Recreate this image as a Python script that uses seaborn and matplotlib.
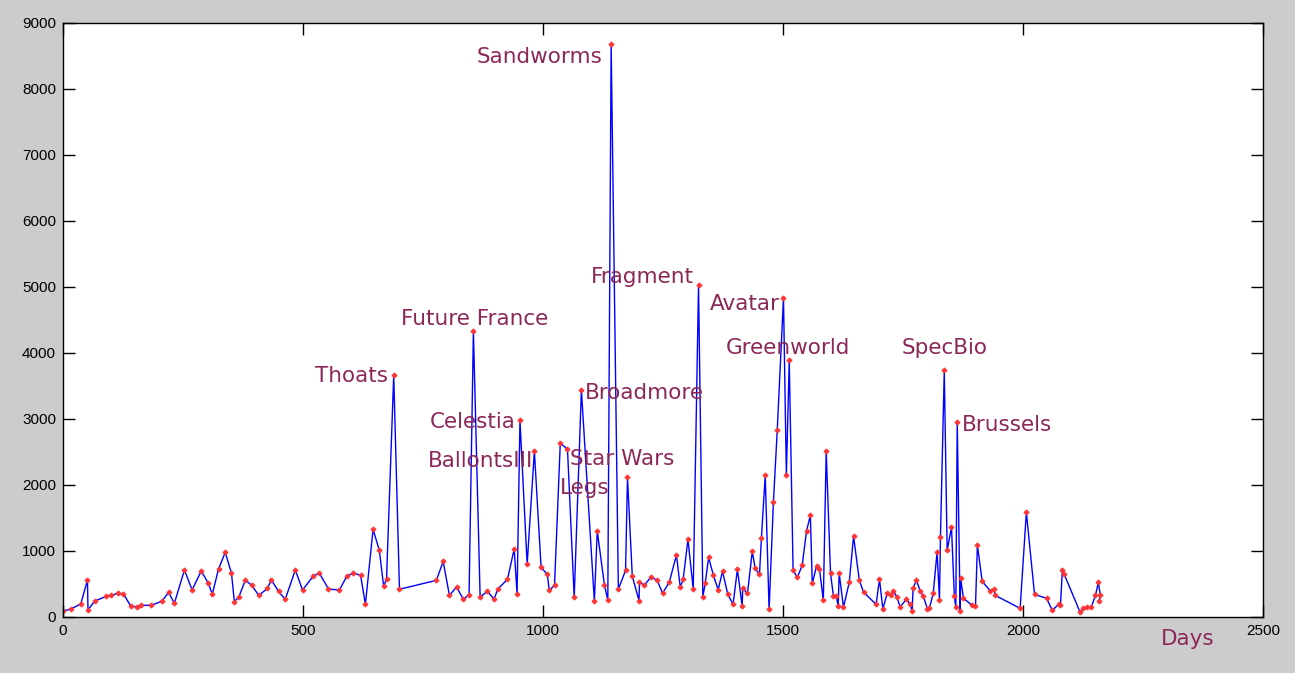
import matplotlib
matplotlib.use("Agg")
import matplotlib.pyplot as plt
import pandas as pd
import seaborn as sns

# days since start and the value at each of them
days = [1, 16, 37, 51, 52, 66, 90, 101, 114, 126, 141, 155, 162, 183, 206, 220, 232, 253, 269, 288,
        303, 311, 324, 338, 351, 357, 366, 380, 393, 408, 426, 434, 449, 463, 484, 499, 521, 534, 553, 576,
        591, 605, 620, 630, 646, 659, 668, 674, 689, 701, 778, 792, 805, 820, 834, 846, 855, 869, 884, 898,
        906, 926, 940, 946, 952, 967, 982, 996, 1009, 1013, 1024, 1036, 1051, 1065, 1080, 1107, 1113, 1128, 1135, 1142,
        1157, 1172, 1176, 1186, 1200, 1201, 1211, 1225, 1238, 1249, 1263, 1278, 1286, 1292, 1302, 1313, 1324, 1333, 1338, 1345,
        1355, 1365, 1374, 1385, 1396, 1405, 1415, 1416, 1426, 1436, 1442, 1451, 1455, 1463, 1471, 1480, 1488, 1501, 1507, 1513,
        1521, 1530, 1540, 1549, 1557, 1561, 1570, 1576, 1584, 1590, 1599, 1605, 1611, 1615, 1617, 1626, 1638, 1647, 1659, 1668,
        1694, 1701, 1708, 1717, 1724, 1730, 1737, 1744, 1757, 1765, 1769, 1771, 1778, 1786, 1792, 1801, 1805, 1813, 1821, 1826,
        1828, 1836, 1842, 1851, 1857, 1860, 1863, 1869, 1870, 1876, 1894, 1901, 1905, 1915, 1932, 1940, 1942, 1994, 2007, 2024,
        2049, 2061, 2074, 2078, 2082, 2086, 2119, 2126, 2134, 2142, 2151, 2157, 2161, 2159]
values = [91, 121, 197, 560, 106, 242, 313, 328, 359, 348, 167, 152, 177, 177, 237, 373, 207, 712, 409, 697,
          510, 343, 727, 980, 662, 232, 298, 560, 480, 328, 434, 560, 389, 268, 712, 409, 616, 667, 424, 409,
          616, 667, 631, 192, 1328, 1010, 465, 571, 3662, 420, 556, 843, 328, 455, 268, 338, 4328, 303, 389, 273,
          424, 571, 1030, 343, 2980, 798, 2515, 752, 646, 404, 480, 2631, 2545, 298, 3439, 237, 1303, 485, 258, 8677,
          420, 707, 2116, 621, 247, 530, 480, 606, 556, 359, 525, 939, 450, 571, 1177, 420, 5025, 308, 510, 904,
          631, 414, 692, 343, 192, 722, 162, 434, 359, 995, 737, 646, 1192, 2147, 116, 1737, 2828, 4828, 2147, 3889,
          707, 601, 783, 1303, 1540, 510, 773, 727, 252, 2510, 662, 318, 318, 162, 662, 147, 525, 1222, 556, 374,
          192, 571, 121, 359, 328, 394, 308, 152, 268, 192, 91, 434, 560, 389, 323, 121, 136, 359, 985, 258,
          1207, 3737, 1010, 1359, 313, 147, 2949, 86, 586, 283, 177, 162, 1086, 540, 394, 419, 328, 131, 1586, 343,
          283, 101, 192, 177, 707, 646, 71, 131, 147, 147, 328, 525, 333, 237]

# peak names, where the text sits, and how it is aligned
names = ["Sandworms", "Fragment", "Avatar", "Greenworld", "Future France", "Thoats", "Celestia",
         "BallontsIII", "Broadmore", "Star Wars", "Legs", "SpecBio", "Brussels"]
name_x = [1123, 1315, 1494, 1511, 857, 677, 942, 979, 1087, 1056, 1035, 1836, 1873]
name_y = [8485, 5150, 4742, 4076, 4515, 3652, 2955, 2364, 3394, 2394, 1955, 4076, 2909]
name_ha = ["right", "right", "right", "center", "center", "right", "right",
           "right", "left", "left", "left", "center", "left"]

df = pd.DataFrame({"day": days, "value": values})
label_color = "#8c2858"

sns.set_style("ticks")
plt.rcParams["font.family"] = ["Liberation Sans", "DejaVu Sans"]

fig = plt.figure(figsize=(12.95, 6.73), dpi=100, facecolor="#cccccc")
ax = fig.add_axes([63 / 1295, 1 - 617 / 673, 1200 / 1295, 594 / 673])
ax.set_facecolor("white")

sns.lineplot(data=df, x="day", y="value", sort=False, ax=ax, color="#0000ff", lw=1,
             marker="P", markersize=3.5, markerfacecolor="#ff3333", markeredgecolor="#ff3333",
             markeredgewidth=0.5)

for n, x, y, ha in zip(names, name_x, name_y, name_ha):
    ax.text(x, y, n, ha=ha, va="center", color=label_color, fontsize=15.5, family="DejaVu Sans")
ax.text(2344, -340, "Days", ha="center", va="center", color=label_color, fontsize=15.5,
        family="DejaVu Sans", clip_on=False)

ax.set_xlim(0, 2500)
ax.set_ylim(0, 9000)
ax.set_xticks(range(0, 2501, 500))
ax.set_yticks(range(0, 9001, 1000))
ax.set_xlabel("")
ax.set_ylabel("")
ax.tick_params(direction="in", top=True, right=True, length=8.6, width=1, colors="black",
               labelsize=11, pad=5)
for s in ax.spines.values():
    s.set_visible(True)
    s.set_color("black")
    s.set_linewidth(1)

fig.savefig("out.png", dpi=100, facecolor=fig.get_facecolor())
